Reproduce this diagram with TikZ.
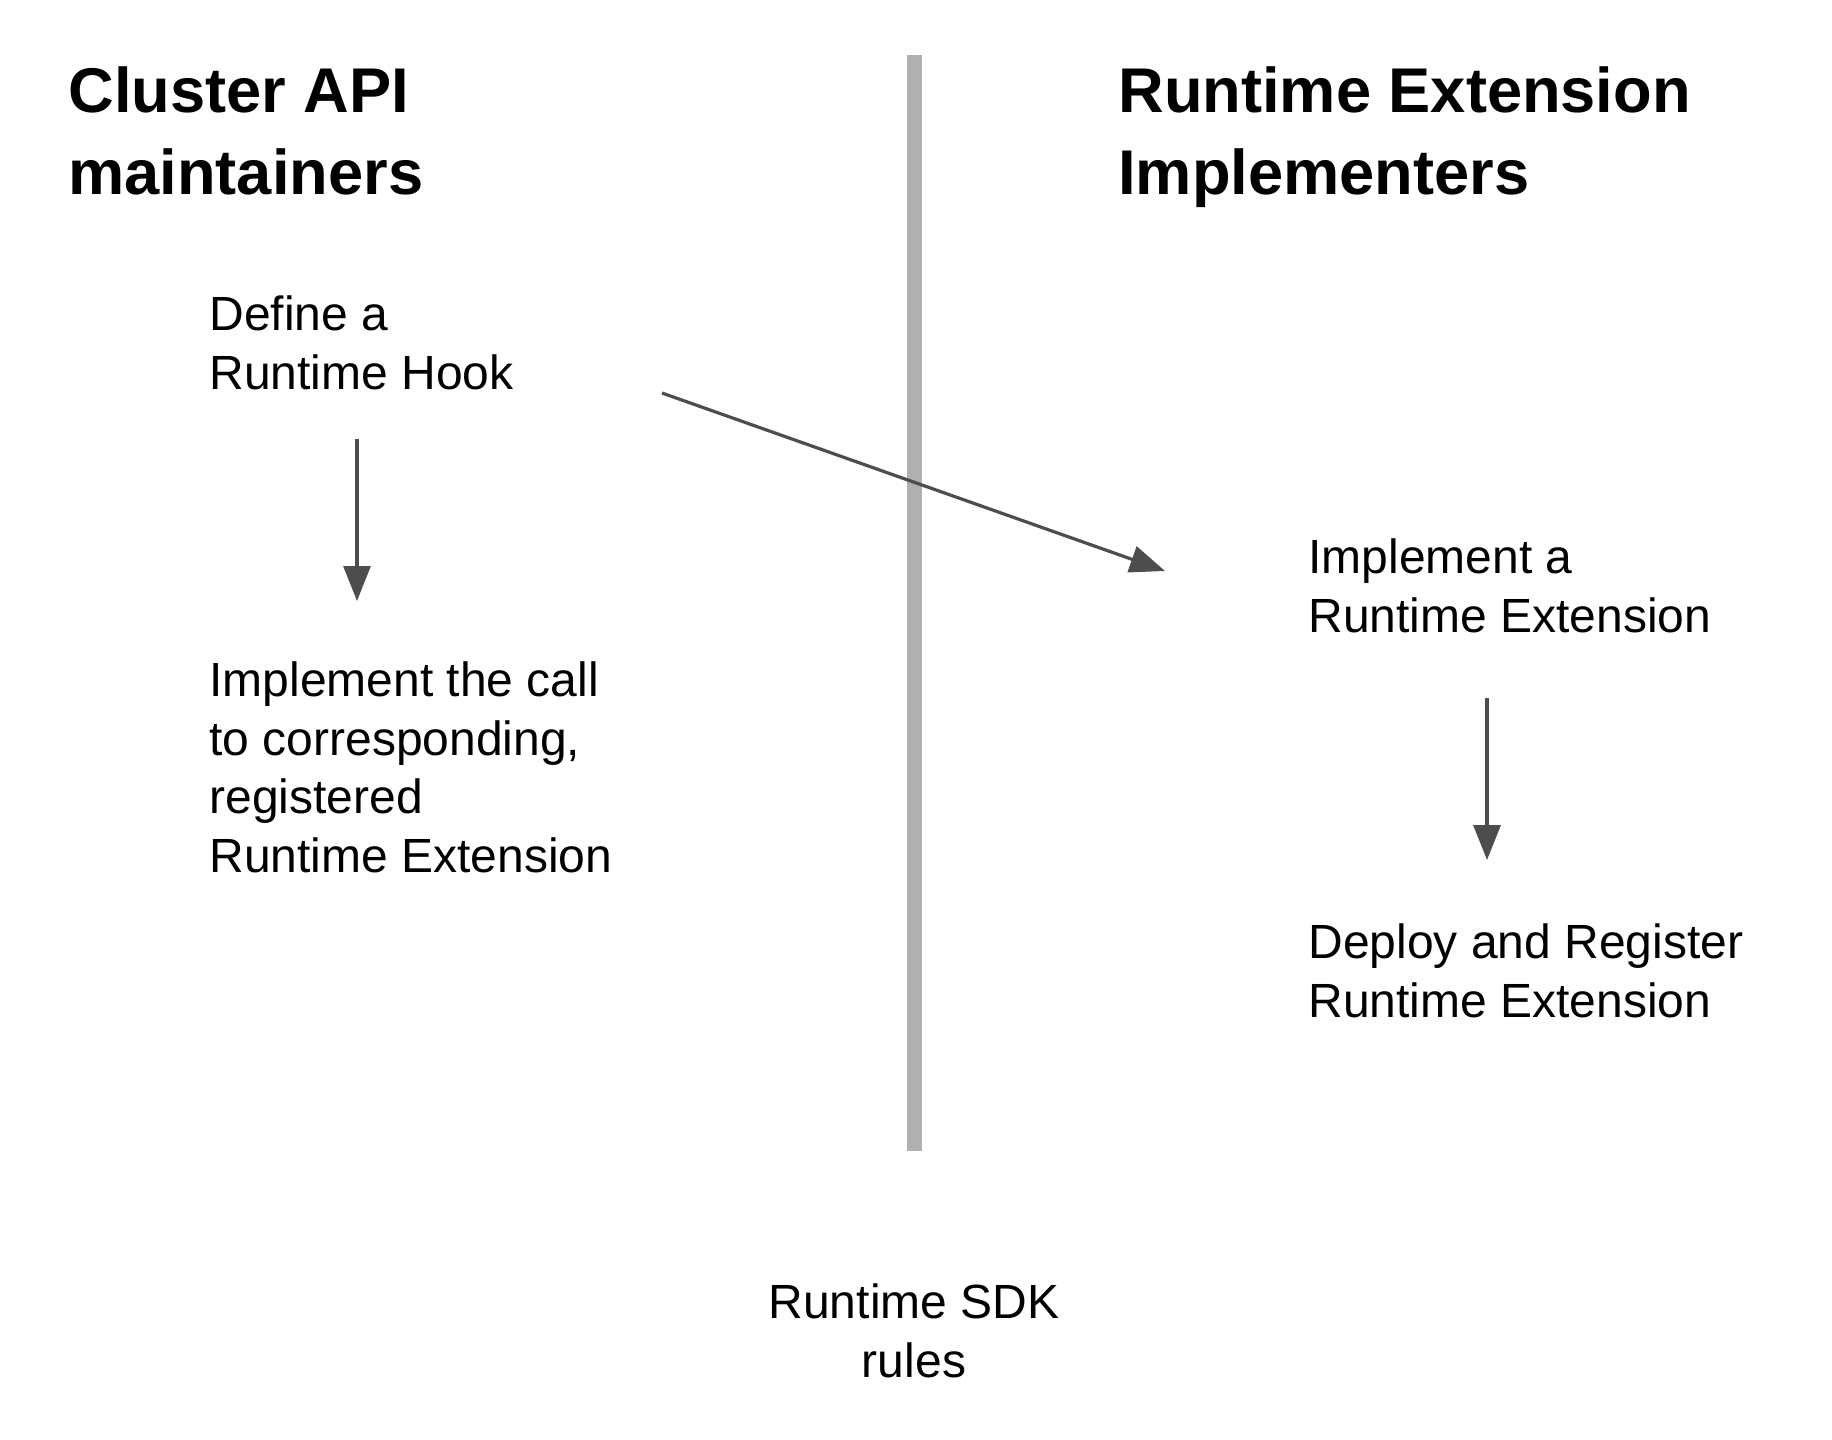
\documentclass[tikz,border=0pt]{standalone}
\usepackage{fontspec}
\setmainfont{Liberation Sans}
\usepackage{tikz}
\usetikzlibrary{arrows.meta}

\definecolor{arrowgray}{HTML}{4D4D4D}
\definecolor{rulegray}{HTML}{B0B0B0}

\tikzset{
  heading/.style={anchor=base west, align=left, inner sep=0pt,
    font=\bfseries\fontsize{31.6}{41}\selectfont},
  stepnote/.style={anchor=base west, align=left, inner sep=0pt,
    font=\fontsize{24}{29.25}\selectfont},
  flow/.style={draw=arrowgray, line width=1.6pt,
    -{Triangle[length=17.5pt,width=13.5pt]}},
  divider/.style={draw=rulegray, line width=7.5pt},
}

\begin{document}
\begin{tikzpicture}[x=0.5pt, y=-0.5pt]
        \useasboundingbox (0,0) rectangle (1832,1440);

        % the two sides (placed at the baseline of their last line)
        \node[heading] (capi) at (68,194) {Cluster API\\maintainers};
        \node[heading] (rtext) at (1118,194) {Runtime Extension\\Implementers};

        \node[stepnote] (define) at (209,389) {Define a\\Runtime Hook};
        \node[stepnote] (callimpl) at (209,872) {Implement the call\\to corresponding,\\registered\\Runtime Extension};
        \node[stepnote] (implext) at (1308,632) {Implement a\\Runtime Extension};
        \node[stepnote] (deploy) at (1308,1017) {Deploy and Register\\Runtime Extension};
        \node[stepnote, anchor=base, align=center] (sdk) at (914,1377) {Runtime SDK\\rules};

        % divider
        \coordinate (ruletop) at (914,55);
        \coordinate (rulebot) at (914,1151);
        \draw[divider] (ruletop) -- (rulebot);

        % arrows
        \coordinate (hookout) at (357,439);
        \coordinate (callin) at (357,601);
        \coordinate (hookcross) at (662,393);
        \coordinate (extin) at (1165,571);
        \coordinate (extout) at (1487,698);
        \coordinate (deployin) at (1487,860);
        \draw[flow] (hookout) -- (callin);
        \draw[flow] (hookcross) -- (extin);
        \draw[flow] (extout) -- (deployin);
    \end{tikzpicture}
\end{document}
